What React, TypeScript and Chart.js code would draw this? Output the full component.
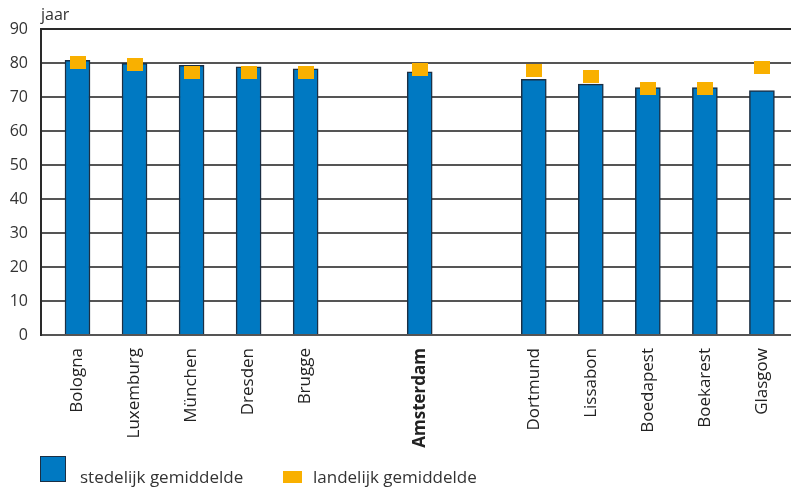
import { useEffect, useRef } from 'react';
import { Chart, registerables } from 'chart.js';

Chart.register(...registerables);

const CATEGORIES = ['Bologna', 'Luxemburg', 'München', 'Dresden', 'Brugge', '', 'Amsterdam', '', 'Dortmund', 'Lissabon', 'Boedapest', 'Boekarest', 'Glasgow'];
const STEDELIJK: (number | null)[] = [80.8, 79.9, 79.3, 78.9, 78.3, null, 77.4, null, 75.2, 73.8, 72.8, 72.8, 71.9];
const LANDELIJK: (number | null)[] = [80.1, 79.7, 77.1, 77.1, 77.1, null, 78.1, null, 77.8, 75.9, 72.4, 72.6, 78.6];
const Y_TICKS = [0, 10, 20, 30, 40, 50, 60, 70, 80, 90];
const HIGHLIGHT = 'Amsterdam';
const UNIT = 'jaar';
const LEGEND_STEDELIJK = 'stedelijk gemiddelde';
const LEGEND_LANDELIJK = 'landelijk gemiddelde';

const FONT = "'Open Sans', sans-serif";
const BLUE = '#0079c2';
const BLUE_BORDER = '#1b2f44';
const ORANGE = '#f9b000';
const TEXT = '#333';

export default function App() {
  const ref = useRef<HTMLCanvasElement>(null);

  useEffect(() => {
    const marker = document.createElement('canvas');
    marker.width = 16;
    marker.height = 13;
    const mctx = marker.getContext('2d')!;
    mctx.fillStyle = ORANGE;
    mctx.fillRect(0, 0, 16, 13);

    const toPts = (arr: (number | null)[]) =>
      arr.map((v, i) => (v == null ? null : { x: i, y: v })).filter((p) => p !== null) as { x: number; y: number }[];

    const chart = new Chart(ref.current!, {
      type: 'bar',
      data: {
        datasets: [
          {
            type: 'bar',
            label: LEGEND_STEDELIJK,
            data: toPts(STEDELIJK),
            backgroundColor: BLUE,
            borderColor: BLUE_BORDER,
            borderWidth: 1.5,
            barThickness: 25,
            order: 2,
          } as any,
          {
            type: 'line',
            label: LEGEND_LANDELIJK,
            data: toPts(LANDELIJK),
            showLine: false,
            pointStyle: marker,
            pointRadius: 8,
            pointHoverRadius: 8,
            backgroundColor: ORANGE,
            borderWidth: 0,
            order: 1,
          } as any,
        ],
      },
      options: {
        animation: false,
        responsive: true,
        maintainAspectRatio: false,
        layout: { autoPadding: false, padding: { top: 29, left: 0, right: 0, bottom: 0 } },
        plugins: { legend: { display: false }, tooltip: { enabled: false } },
        scales: {
          x: {
            type: 'linear',
            bounds: 'data',
            offset: false,
            min: -0.64,
            max: 12.51,
            grid: { display: false, drawTicks: false, offset: false },
            border: { display: false },
            afterBuildTicks: (axis: any) => {
              axis.ticks = CATEGORIES.map((c, i) => ({ value: i, c })).filter((t) => t.c !== '').map((t) => ({ value: t.value }));
            },
            afterFit: (axis: any) => {
              axis.height = 154;
              axis.paddingLeft = 0;
              axis.paddingRight = 0;
            },
            ticks: {
              autoSkip: false,
              maxRotation: 90,
              minRotation: 90,
              padding: 13,
              color: '#222',
              font: (ctx: any) => ({
                family: FONT,
                size: 17,
                weight: CATEGORIES[ctx.tick?.value] === HIGHLIGHT ? 'bold' : 'normal',
              }),
              callback: (v: any) => CATEGORIES[v as number] ?? '',
            },
          },
          y: {
            min: 0,
            max: 90,
            afterBuildTicks: (axis: any) => {
              axis.ticks = Y_TICKS.map((v) => ({ value: v }));
            },
            afterFit: (axis: any) => {
              axis.width = 41;
            },
            grid: {
              color: (ctx: any) => (ctx.tick?.value === 90 ? '#2a2a2a' : '#555'),
              lineWidth: 2,
              drawTicks: false,
            },
            border: { display: true, color: '#2a2a2a', width: 2 },
            ticks: {
              padding: 13,
              color: TEXT,
              font: { family: FONT, size: 16 },
            },
          },
        },
      },
    });
    return () => chart.destroy();
  }, []);

  return (
    <div style={{ position: 'fixed', left: 0, top: 0, width: 791, height: 489, background: '#fff', fontFamily: FONT }}>
      <canvas ref={ref} />
      <div style={{ position: 'absolute', left: 41, top: 6, fontSize: 16, lineHeight: '16px', color: TEXT }}>{UNIT}</div>
      <div style={{ position: 'absolute', left: 40, top: 456, width: 26, height: 26, boxSizing: 'border-box', background: BLUE, border: `1.5px solid ${BLUE_BORDER}` }} />
      <div style={{ position: 'absolute', left: 80, top: 468, fontSize: 17, lineHeight: '17px', color: TEXT, whiteSpace: 'nowrap' }}>{LEGEND_STEDELIJK}</div>
      <div style={{ position: 'absolute', left: 283, top: 471, width: 19, height: 12, background: ORANGE }} />
      <div style={{ position: 'absolute', left: 313, top: 468, fontSize: 17, lineHeight: '17px', color: TEXT, whiteSpace: 'nowrap' }}>{LEGEND_LANDELIJK}</div>
    </div>
  );
}
